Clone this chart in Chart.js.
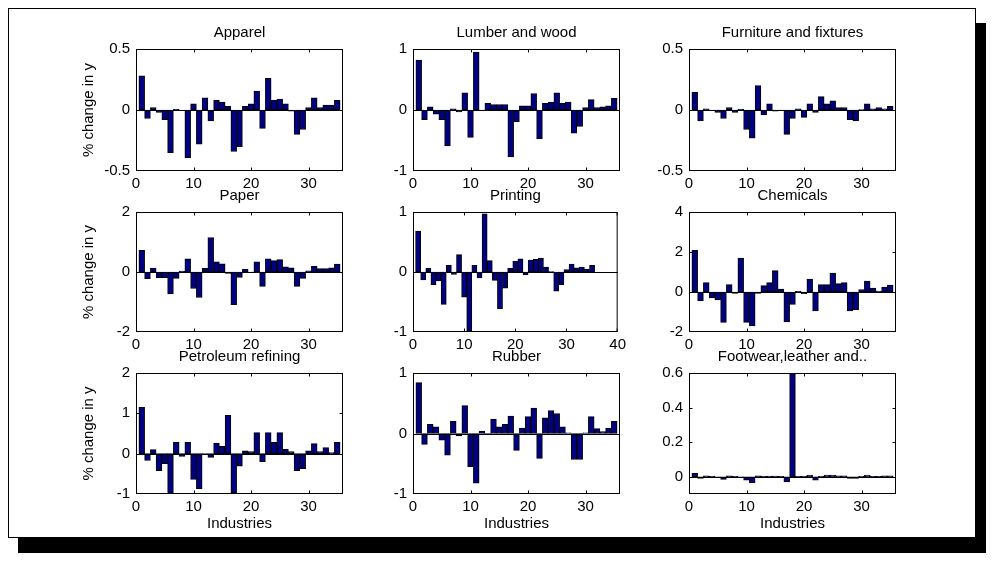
<!DOCTYPE html>
<html>
<head>
<meta charset="utf-8">
<script src="https://cdn.jsdelivr.net/npm/chart.js@4.4.0/dist/chart.umd.min.js"></script>
<style>
  body { margin: 0; background: #fff; width: 995px; height: 569px; position: relative; overflow: hidden; }
  .frame { position: absolute; left: 8px; top: 8px; width: 966px; height: 528px; border: 1px solid #000; background: #fff; box-shadow: 10px 15px 0 0 #000; }
  canvas.panel { position: absolute; }
</style>
</head>
<body>
<div class="frame"></div>
<script>
// industry index on the x axis
const industries = [1,2,3,4,5,6,7,8,9,10,11,12,13,14,15,16,17,18,19,20,21,22,23,24,25,26,27,28,29,30,31,32,33,34,35];

// % change in y
const apparel   = [0.28,-0.07,0.02,-0.02,-0.08,-0.35,0.005,0,-0.39,0.05,-0.28,0.10,-0.09,0.08,0.065,0.03,-0.34,-0.30,0.03,0.05,0.155,-0.15,0.26,0.08,0.09,0.05,-0.01,-0.20,-0.16,0.02,0.10,0.02,0.04,0.04,0.08];
const lumber    = [0.82,-0.16,0.05,-0.07,-0.16,-0.59,0.02,-0.03,0.28,-0.45,0.95,-0.01,0.11,0.09,0.09,0.09,-0.77,-0.19,0.07,0.07,0.27,-0.47,0.11,0.13,0.28,0.11,0.13,-0.38,-0.27,0.04,0.17,0.04,0.05,0.07,0.19];
const furniture = [0.145,-0.09,0.01,-0.003,-0.02,-0.07,0.02,-0.02,0.005,-0.16,-0.23,0.20,-0.04,0.05,-0.01,-0.005,-0.20,-0.07,0.01,-0.06,0.05,-0.02,0.11,0.05,0.075,0.02,0.02,-0.08,-0.09,0.003,0.05,0.01,0.02,0.01,0.03];
const paper     = [0.72,-0.22,0.13,-0.19,-0.19,-0.73,-0.21,0.03,0.44,-0.55,-0.85,0.12,1.15,0.34,0.27,-0.05,-1.09,-0.18,0.09,-0.02,0.34,-0.48,0.44,0.38,0.41,0.17,0.14,-0.48,-0.21,0.04,0.19,0.11,0.11,0.14,0.26];
const printing  = [0.68,-0.13,0.06,-0.21,-0.15,-0.54,0.11,-0.04,0.29,-0.42,-0.98,0.11,-0.10,0.97,0.19,-0.14,-0.61,-0.27,0.06,0.18,0.22,-0.05,0.20,0.21,0.23,0.08,0.005,-0.32,-0.21,0.04,0.13,0.07,0.08,0.05,0.11];
const chemicals = [2.08,-0.45,0.47,-0.30,-0.40,-1.52,0.37,-0.07,1.70,-1.52,-1.70,-0.07,0.32,0.47,1.07,0.15,-1.50,-0.62,0.03,-0.08,0.64,-0.95,0.37,0.37,0.95,0.42,0.47,-0.95,-0.88,0.12,0.55,0.20,0.05,0.25,0.35];
const petroleum = [1.15,-0.17,0.10,-0.42,-0.25,-1.0,0.28,-0.07,0.28,-0.64,-0.87,-0.02,-0.09,0.26,0.18,0.95,-0.97,-0.31,0.07,0.05,0.52,-0.20,0.52,0.28,0.52,0.11,0.05,-0.42,-0.37,0.07,0.25,0.05,0.15,0.03,0.28];
const rubber    = [0.84,-0.18,0.15,0.11,-0.11,-0.36,0.20,-0.04,0.46,-0.55,-0.82,0.04,-0.02,0.24,0.11,0.15,0.29,-0.28,0.09,0.28,0.42,-0.41,0.26,0.38,0.33,0.11,0.01,-0.43,-0.43,0.01,0.28,0.08,0.03,0.09,0.20];
const footwear  = [0.02,-0.01,0.005,0.002,-0.005,-0.015,0.005,0.002,-0.005,-0.02,-0.035,0.005,0.002,0.003,0.003,0.002,-0.03,0.6,0.002,0.002,0.01,-0.02,0.002,0.01,0.01,0.005,0.005,-0.01,-0.01,0.002,0.01,0.002,0.002,0.005,0.005];

// tick labels
const xTicks     = [0,10,20,30];
const xTicks40   = [0,10,20,30,40];
const yTicksHalf = [-0.5,0,0.5];
const yTicksOne  = [-1,0,1];
const yTicksTwo  = [-2,0,2];
const yTicksChem = [-2,0,2,4];
const yTicksPet  = [-1,0,1,2];
const yTicksFoot = [0,0.2,0.4,0.6];

const titles = ['Apparel','Lumber and wood','Furniture and fixtures','Paper','Printing','Chemicals','Petroleum refining','Rubber','Footwear,leather and..'];

// layout of the 3x3 grid (plot area corners)
const colLeft = [136, 413, 689];
const rowTop = [49, 212, 373];
const rowH = [122, 120, 121];
const plotW = 207;
const padL = 70, padT = 30, padR = 10, padB = 45;

const panels = [
  {data: apparel,   xmax: 36, xt: xTicks,   ymin: -0.5, ymax: 0.5, yt: yTicksHalf},
  {data: lumber,    xmax: 36, xt: xTicks,   ymin: -1,   ymax: 1,   yt: yTicksOne},
  {data: furniture, xmax: 36, xt: xTicks,   ymin: -0.5, ymax: 0.5, yt: yTicksHalf},
  {data: paper,     xmax: 36, xt: xTicks,   ymin: -2,   ymax: 2,   yt: yTicksTwo},
  {data: printing,  xmax: 40, xt: xTicks40, ymin: -1,   ymax: 1,   yt: yTicksOne},
  {data: chemicals, xmax: 36, xt: xTicks,   ymin: -2,   ymax: 4,   yt: yTicksChem},
  {data: petroleum, xmax: 36, xt: xTicks,   ymin: -1,   ymax: 2,   yt: yTicksPet},
  {data: rubber,    xmax: 36, xt: xTicks,   ymin: -1,   ymax: 1,   yt: yTicksOne},
  {data: footwear,  xmax: 36, xt: xTicks,   ymin: -0.1, ymax: 0.6, yt: yTicksFoot}
];

Chart.defaults.font.family = 'Arial, "Liberation Sans", sans-serif';
Chart.defaults.font.size = 15;
Chart.defaults.color = '#000';

// matlab-ish box, inner tick marks, zero baseline and the panel title
const axesBox = {
  id: 'axesBox',
  afterDatasetsDraw(chart, args, opts) {
    const ctx = chart.ctx;
    const a = chart.chartArea;
    const x = chart.scales.x, y = chart.scales.y;
    const L = a.left + 0.5, R = a.right - 0.5, T = a.top + 0.5, B = a.bottom - 0.5;
    ctx.save();
    ctx.strokeStyle = '#000';
    ctx.lineWidth = 1;
    const y0 = Math.round(y.getPixelForValue(0)) + 0.5;
    ctx.beginPath();
    ctx.moveTo(a.left, y0);
    ctx.lineTo(a.right, y0);
    ctx.stroke();
    ctx.strokeRect(L, T, R - L, B - T);
    const tl = 3;
    ctx.beginPath();
    x.ticks.forEach(t => {
      const px = Math.min(Math.max(Math.round(x.getPixelForValue(t.value)) + 0.5, L), R);
      ctx.moveTo(px, B); ctx.lineTo(px, B - tl);
      ctx.moveTo(px, T); ctx.lineTo(px, T + tl);
    });
    y.ticks.forEach(t => {
      const py = Math.min(Math.max(Math.round(y.getPixelForValue(t.value)) + 0.5, T), B);
      ctx.moveTo(L, py); ctx.lineTo(L + tl, py);
      ctx.moveTo(R, py); ctx.lineTo(R - tl, py);
    });
    ctx.stroke();
    ctx.fillStyle = '#000';
    ctx.font = '15px Arial, "Liberation Sans", sans-serif';
    ctx.textAlign = 'center';
    ctx.textBaseline = 'middle';
    ctx.fillText(opts.text, (a.left + a.right) / 2, a.top - 16);
    ctx.restore();
  }
};

panels.forEach((p, i) => {
  const row = Math.floor(i / 3), col = i % 3;
  const canvas = document.createElement('canvas');
  canvas.className = 'panel';
  const w = padL + plotW + padR;
  const h = padT + rowH[row] + padB;
  canvas.width = w;
  canvas.height = h;
  canvas.style.left = (colLeft[col] - padL) + 'px';
  canvas.style.top = (rowTop[row] - padT) + 'px';
  canvas.style.width = w + 'px';
  canvas.style.height = h + 'px';
  document.body.appendChild(canvas);

  new Chart(canvas.getContext('2d'), {
    type: 'bar',
    data: {
      labels: industries,
      datasets: [{
        data: p.data,
        backgroundColor: '#000080',
        borderColor: '#000',
        borderWidth: 1,
        borderSkipped: false,
        barPercentage: 1,
        categoryPercentage: 1
      }]
    },
    options: {
      responsive: false,
      animation: false,
      layout: { padding: { left: 0, top: padT, right: padR, bottom: 0 } },
      plugins: {
        legend: { display: false },
        tooltip: { enabled: false },
        axesBox: { text: titles[i] }
      },
      scales: {
        x: {
          type: 'linear',
          offset: false,
          min: 0,
          max: p.xmax,
          grid: { display: false, drawTicks: false, offset: false },
          border: { display: false },
          ticks: { padding: 4, autoSkip: false, maxRotation: 0, callback: v => String(v) },
          afterBuildTicks: s => { s.ticks = p.xt.map(v => ({ value: v })); },
          afterFit: s => { s.height = padB; },
          title: { display: row === 2, text: 'Industries', padding: { top: 0, bottom: 6 } }
        },
        y: {
          min: p.ymin,
          max: p.ymax,
          grid: { display: false, drawTicks: false },
          border: { display: false },
          ticks: { padding: 6, callback: v => String(v) },
          afterBuildTicks: s => { s.ticks = p.yt.map(v => ({ value: v })); },
          afterFit: s => { s.width = padL; },
          title: { display: col === 0, text: '% change in y', padding: { top: 14, bottom: 0 } }
        }
      }
    },
    plugins: [axesBox]
  });
});
</script>
</body>
</html>
